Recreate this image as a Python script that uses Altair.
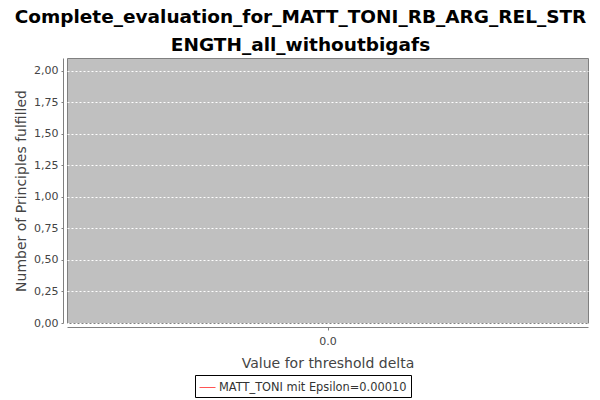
import altair as alt
import pandas as pd

# Data
x_values = ["0.0"]
y_values = [0.0]
series = ["MATT_TONI mit Epsilon=0.00010"]
y_ticks = [0, 0.25, 0.5, 0.75, 1.0, 1.25, 1.5, 1.75, 2.0]

df = pd.DataFrame({"delta": x_values, "value": y_values, "series": series})

FONT = "DejaVu Sans"

chart = alt.Chart(df).mark_line(strokeWidth=1).encode(
    x=alt.X("delta:N", title="Value for threshold delta",
            scale=alt.Scale(paddingInner=0, paddingOuter=0),
            axis=alt.Axis(labelAngle=0, offset=4, domainColor="#808080", tickColor="#808080",
                          tickSize=3, labelColor="#444444", labelFontSize=11, labelFont=FONT,
                          labelPadding=5, titleFont=FONT, titleFontSize=14, titleColor="#444444",
                          titleFontWeight="normal", titlePadding=10, grid=False)),
    y=alt.Y("value:Q", title="Number of Principles fulfilled",
            scale=alt.Scale(domain=[0, 2.1], nice=False, zero=True),
            axis=alt.Axis(values=y_ticks, format=".2f",
                          labelExpr="replace(datum.label, '.', ',')",
                          offset=4, domainColor="#808080", tickColor="#808080", tickSize=2,
                          labelColor="#444444", labelFontSize=11, labelFont=FONT, labelPadding=3,
                          titleFont=FONT, titleFontSize=14, titleColor="#444444",
                          titleFontWeight="normal", titlePadding=5,
                          grid=True, gridColor="#ffffff", gridDash=[2, 2], gridWidth=1)),
    color=alt.Color("series:N", title=None,
                    scale=alt.Scale(domain=series, range=["#ff5555"]),
                    legend=alt.Legend(orient="none", legendX=128, legendY=317,
                                      symbolType="stroke", symbolStrokeWidth=1, symbolSize=256,
                                      strokeColor="#000000", fillColor="#ffffff", padding=4,
                                      labelFont=FONT, labelFontSize=11.4, labelColor="#333333",
                                      labelOffset=3, labelLimit=0, cornerRadius=0)),
).properties(
    width=521, height=265,
    padding={"left": 67, "top": 58, "right": 12, "bottom": 77},
    autosize=alt.AutoSizeParams(type="none"),
    background="#ffffff",
    title=alt.TitleParams(["Complete_evaluation_for_MATT_TONI_RB_ARG_REL_STR",
                           "ENGTH_all_withoutbigafs"],
                          font=FONT, fontSize=18.5, fontWeight="bold", color="#000000",
                          anchor="middle", dx=-27, lineHeight=28, offset=4),
).configure_view(
    fill="#c0c0c0", stroke="#808080", strokeWidth=1
)

chart.save("out.html", embed_options={"renderer": "svg", "actions": False})
